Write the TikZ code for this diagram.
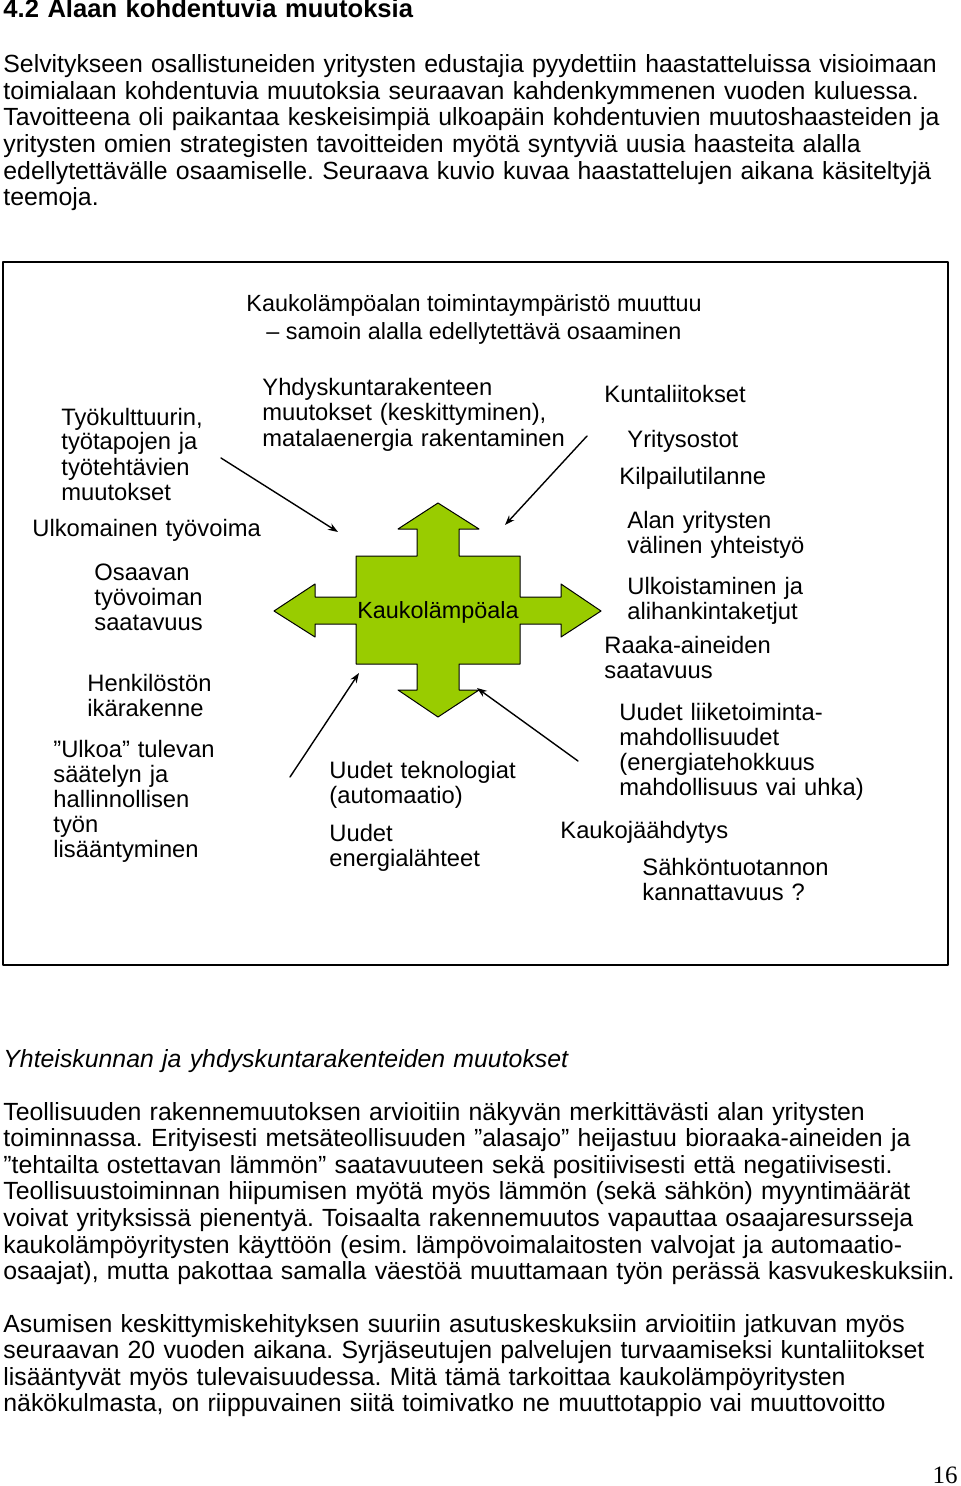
\documentclass[tikz,border=0pt]{standalone}
\usepackage{fontspec}
\usetikzlibrary{arrows.meta}
\setmainfont{Liberation Sans}
\newfontfamily\pagenofont{Liberation Serif}
\definecolor{crossgreen}{HTML}{99CC00}
\frenchspacing
\begin{document}
\begin{tikzpicture}[x=0.5pt,y=-0.5pt,>={Stealth[length=5pt,width=3.6pt]},line cap=round,line join=round,
  body/.style={anchor=base west,inner sep=0pt,align=left,text width=520pt,font=\fontsize{12.42}{13.3}\selectfont},
  diag/.style={anchor=base west,inner sep=0pt,align=left,text width=170pt,font=\fontsize{11.88}{12.5}\selectfont},
  title/.style={anchor=base west,inner sep=0pt,font=\fontsize{11.7}{14}\selectfont},
  pointer/.style={->,line width=0.7pt}]
\useasboundingbox (0,0) rectangle (960,1486);
% page text above the figure
\node[body,font=\fontsize{12.8}{14}\selectfont\bfseries] (heading) at (3,18) {4.2 Alaan kohdentuvia muutoksia};
\node[body] (intro) at (3,72.7) {Selvitykseen osallistuneiden yritysten edustajia pyydettiin haastatteluissa visioimaan\\
toimialaan kohdentuvia muutoksia seuraavan kahdenkymmenen vuoden kuluessa.\\
Tavoitteena oli paikantaa keskeisimpiä ulkoapäin kohdentuvien muutoshaasteiden ja\\
yritysten omien strategisten tavoitteiden myötä syntyviä uusia haasteita alalla\\
edellytettävälle osaamiselle. Seuraava kuvio kuvaa haastattelujen aikana käsiteltyjä\\
teemoja.};
% the figure
\draw[line width=0.6pt] (3,262) rectangle (948,965);
\node[title] (title1) at (246,312) {Kaukolämpöalan toimintaympäristö muuttuu};
\node[title] (title2) at (266,340) {– samoin alalla edellytettävä osaaminen};
\draw[fill=crossgreen,line width=0.5pt] (438,503) -- (479,529) -- (459,529) -- (459,556) -- (520,556) -- (520,597)
  -- (561,597) -- (561,584) -- (601,611) -- (561,637) -- (561,624) -- (520,624) -- (520,664) -- (459,664)
  -- (459,690) -- (479,690) -- (438,717) -- (398,690) -- (417,690) -- (417,664) -- (356,664) -- (356,624)
  -- (315,624) -- (315,637) -- (274,611) -- (315,584) -- (315,597) -- (356,597) -- (356,556) -- (417,556)
  -- (417,529) -- (398,529) -- cycle;
\node[title,anchor=base] (branch) at (438,618) {Kaukolämpöala};
\node[diag] (culture) at (61,425) {Työkulttuurin,\\työtapojen ja\\työtehtävien\\muutokset};
\node[diag] (foreign) at (32,536) {Ulkomainen työvoima};
\node[diag] (skilled) at (94,580) {Osaavan\\työvoiman\\saatavuus};
\node[diag] (age) at (87,691) {Henkilöstön\\ikärakenne};
\node[diag] (regul) at (53,757) {”Ulkoa” tulevan\\säätelyn ja\\hallinnollisen\\työn\\lisääntyminen};
\node[diag] (urban) at (262,396) {Yhdyskuntarakenteen\\muutokset (keskittyminen),\\matalaenergia rakentaminen};
\node[diag] (merger) at (604,403) {Kuntaliitokset};
\node[diag] (acquis) at (627,447) {Yritysostot};
\node[diag] (compet) at (619,484) {Kilpailutilanne};
\node[diag] (coop) at (627,528) {Alan yritysten\\välinen yhteistyö};
\node[diag] (outsrc) at (627,594) {Ulkoistaminen ja\\alihankintaketjut};
\node[diag] (raw) at (604,653) {Raaka-aineiden\\saatavuus};
\node[diag] (business) at (619,720) {Uudet liiketoiminta-\\mahdollisuudet\\(energiatehokkuus\\mahdollisuus vai uhka)};
\node[diag] (cooling) at (560,838) {Kaukojäähdytys};
\node[diag] (power) at (642,875) {Sähköntuotannon\\kannattavuus ?};
\node[diag] (tech) at (329,778) {Uudet teknologiat\\(automaatio)};
\node[diag] (energy) at (329,841) {Uudet\\energialähteet};
\coordinate (nwfrom) at (221,458);
\coordinate (nwto) at (338,532);
\coordinate (nefrom) at (587,436);
\coordinate (neto) at (505,525);
\coordinate (swfrom) at (290,777);
\coordinate (swto) at (359,673);
\coordinate (sefrom) at (578,761);
\coordinate (seto) at (477,688);
\draw[pointer] (nwfrom) -- (nwto);
\draw[pointer] (nefrom) -- (neto);
\draw[pointer] (swfrom) -- (swto);
\draw[pointer] (sefrom) -- (seto);
% page text below the figure
\node[body,font=\fontsize{12.42}{13.3}\selectfont\itshape] (subhead) at (3,1067) {Yhteiskunnan ja yhdyskuntarakenteiden muutokset};
\node[body] (para1) at (3,1120) {Teollisuuden rakennemuutoksen arvioitiin näkyvän merkittävästi alan yritysten\\
toiminnassa. Erityisesti metsäteollisuuden ”alasajo” heijastuu bioraaka-aineiden ja\\
”tehtailta ostettavan lämmön” saatavuuteen sekä positiivisesti että negatiivisesti.\\
Teollisuustoiminnan hiipumisen myötä myös lämmön (sekä sähkön) myyntimäärät\\
voivat yrityksissä pienentyä. Toisaalta rakennemuutos vapauttaa osaajaresursseja\\
kaukolämpöyritysten käyttöön (esim. lämpövoimalaitosten valvojat ja automaatio-\\
osaajat), mutta pakottaa samalla väestöä muuttamaan työn perässä kasvukeskuksiin.};
\node[body] (para2) at (3,1332) {Asumisen keskittymiskehityksen suuriin asutuskeskuksiin arvioitiin jatkuvan myös\\
seuraavan 20 vuoden aikana. Syrjäseutujen palvelujen turvaamiseksi kuntaliitokset\\
lisääntyvät myös tulevaisuudessa. Mitä tämä tarkoittaa kaukolämpöyritysten\\
näkökulmasta, on riippuvainen siitä toimivatko ne muuttotappio vai muuttovoitto};
\node[anchor=base east,inner sep=0pt,font=\pagenofont\fontsize{12.5}{14}\selectfont] (pageno) at (958,1483) {16};
\end{tikzpicture}
\end{document}
